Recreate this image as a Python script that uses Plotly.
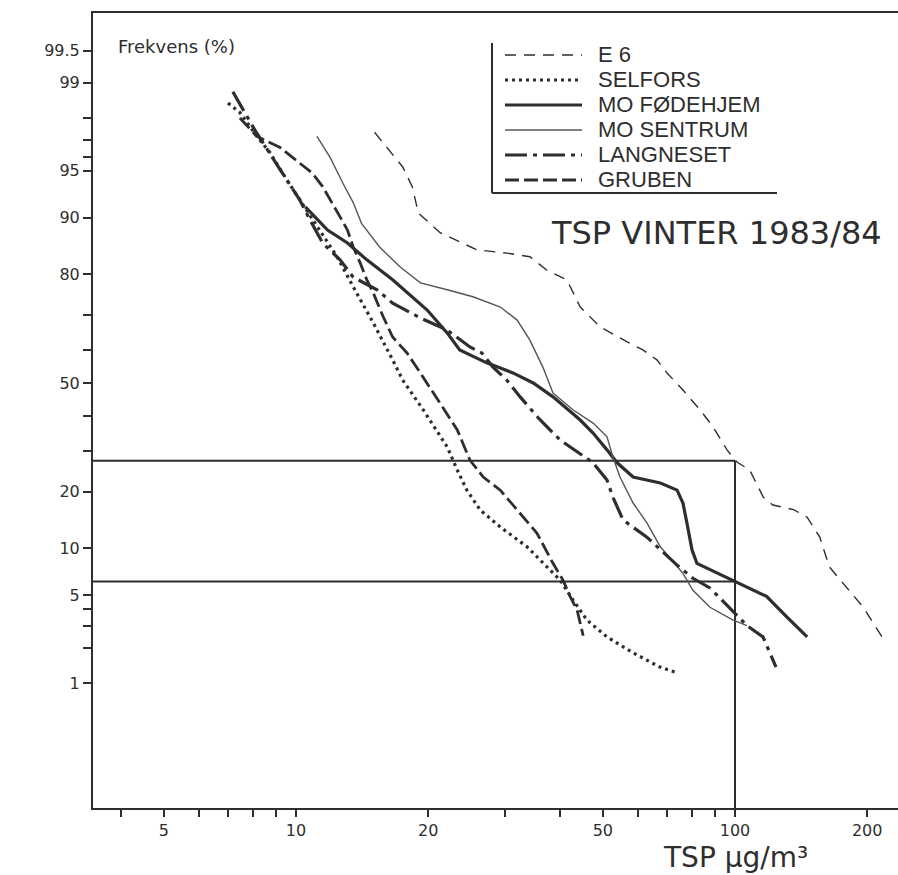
import plotly.graph_objects as go
from statistics import NormalDist

_nd = NormalDist()


def probit(p):
    """Normal-probability scale: percent -> standard normal quantile."""
    return _nd.inv_cdf(p / 100.0)


# ---------------- data (TSP in ug/m3, cumulative frequency in %) ----------------
series_names = ["E 6", "SELFORS", "MO FØDEHJEM", "MO SENTRUM", "LANGNESET", "GRUBEN"]

e6_tsp = [15.1, 17.5, 18.4, 19.0, 21.3, 25.8, 30.2, 34.1, 37.3, 41.4, 44.4, 49.3, 56.8,
          61.7, 66.4, 70.0, 76.1, 83.3, 89.1, 95.9, 101, 108, 116, 122, 136, 146, 156,
          164, 174, 196, 217]
e6_freq = [97.4, 95.3, 93.6, 90.6, 87.8, 84.9, 84.3, 83.6, 80.9, 78.8, 72.2, 66.8, 62.5,
           60.1, 57.1, 53.1, 47.8, 41.7, 36.7, 30.2, 27.0, 25.0, 18.8, 17.2, 16.3, 14.9,
           11.6, 7.7, 6.3, 4.1, 2.4]

selfors_tsp = [7.0, 7.45, 8.15, 8.72, 9.54, 10.2, 11.34, 12.4, 13.5, 15.0, 16.6, 17.5,
               19.5, 22.1, 23.3, 24.5, 26.3, 29.2, 33.6, 37.3, 40.0, 42.8, 46.0, 51.1,
               58.6, 67.5, 73.8]
selfors_freq = [98.5, 98.2, 97.2, 96.3, 94.2, 92.2, 88.2, 83.6, 77.2, 67.9, 57.1, 50.9,
                41.7, 31.0, 25.0, 20.3, 16.2, 13.2, 10.2, 7.7, 6.3, 4.6, 3.3, 2.45,
                1.82, 1.38, 1.23]

fodehjem_tsp = [10.5, 11.8, 13.1, 14.5, 16.6, 19.9, 22.1, 23.6, 27.2, 31.2, 34.7, 38.5,
                44.4, 47.5, 51.1, 53.9, 58.6, 67.6, 73.8, 76.1, 77.7, 79.8, 81.9, 87.7,
                99.0, 106.5, 118, 131, 146]
fodehjem_freq = [91.4, 88.2, 86.1, 83.0, 78.8, 71.4, 65.1, 60.1, 56.2, 53.1, 50.0, 45.7,
                 38.7, 34.9, 30.2, 26.8, 23.3, 21.9, 20.3, 17.6, 13.9, 9.8, 8.1, 7.4,
                 6.3, 5.7, 4.9, 3.5, 2.45]

sentrum_tsp = [11.16, 11.95, 12.8, 13.5, 14.1, 15.5, 17.25, 19.2, 22.1, 25.3, 29.2, 31.9,
               34.1, 36.5, 38.5, 42.8, 47.5, 51.1, 52.7, 54.7, 58.6, 63.0, 67.6, 76.1,
               80.2, 87.7, 99.0, 106.5]
sentrum_freq = [97.2, 96.0, 93.9, 91.9, 89.2, 85.4, 81.6, 78.1, 76.5, 74.8, 72.2, 68.7,
                63.0, 54.9, 46.9, 41.7, 37.8, 33.8, 28.3, 23.3, 17.6, 13.9, 10.2, 7.0,
                5.4, 4.1, 3.3, 3.0]

langneset_tsp = [7.18, 8.06, 9.2, 10.2, 10.76, 11.5, 12.6, 13.5, 15.3, 16.6, 19.2, 22.1,
                 24.9, 26.5, 28.1, 30.2, 32.4, 36.0, 40.0, 43.7, 47.5, 51.1, 52.7, 55.6,
                 59.8, 63.0, 73.8, 80.2, 87.7, 99.0, 106.5, 115.8, 121.4, 124]
langneset_freq = [98.8, 97.5, 95.1, 92.2, 89.7, 86.1, 83.0, 79.4, 76.5, 73.2, 69.3, 65.9,
                  61.0, 59.2, 54.9, 50.9, 45.7, 38.7, 32.9, 29.6, 26.8, 22.6, 18.8, 14.4,
                  12.7, 11.6, 7.9, 6.5, 5.6, 3.8, 3.0, 2.45, 1.68, 1.38]

gruben_tsp = [7.45, 8.15, 9.2, 10.2, 10.9, 11.5, 11.95, 12.6, 13.1, 13.5, 14.0, 14.5,
              15.0, 15.8, 16.6, 17.9, 19.2, 21.3, 23.3, 24.9, 26.7, 29.2, 32.4, 35.4,
              38.5, 40.6, 42.1, 43.7, 45.1]
gruben_freq = [98.0, 97.2, 96.6, 95.6, 94.8, 93.6, 92.2, 90.1, 88.2, 85.4, 82.4, 78.8,
               75.7, 69.6, 63.9, 59.2, 53.1, 43.8, 35.8, 27.5, 23.3, 20.3, 15.7, 12.2,
               8.1, 6.3, 4.9, 3.9, 2.5]

# reference lines
ref_freq = [27.3, 6.2]
ref_tsp = 100

# axis ticks
y_major_freq = [99.5, 99, 95, 90, 80, 50, 20, 10, 5, 1]
y_major_text = ["99.5", "99", "95", "90", "80", "50", "20", "10", "5", "1"]
y_minor_freq = [98, 97, 96, 70, 60, 40, 30, 4, 3, 2]
x_major = [5, 10, 20, 50, 100, 200]
x_minor = [4, 6, 7, 8, 9, 30, 40, 60, 70, 80, 90]

# ---------------- layout geometry (pixels) ----------------
W, H = 898, 875
L, R, T, B = 93, 898, 13, 808
x_range_log = [0.5376, 2.3713]
y_range_z = [-3.295, 2.868]
INK = "#2e2e2e"


def pxx(x):
    return (x - L) / (R - L)


def pxy(y):
    return (B - y) / (B - T)


styles = [
    dict(color=INK, width=1.4, dash="11px,8px"),           # E 6
    dict(color=INK, width=3.2, dash="3px,4px"),            # SELFORS
    dict(color=INK, width=3.2, dash="solid"),              # MO FØDEHJEM
    dict(color="#555555", width=1.4, dash="solid"),        # MO SENTRUM
    dict(color=INK, width=3.2, dash="22px,6px,4px,6px"),   # LANGNESET
    dict(color=INK, width=2.8, dash="14px,5px"),           # GRUBEN
]

series = [
    (e6_tsp, e6_freq),
    (selfors_tsp, selfors_freq),
    (fodehjem_tsp, fodehjem_freq),
    (sentrum_tsp, sentrum_freq),
    (langneset_tsp, langneset_freq),
    (gruben_tsp, gruben_freq),
]

fig = go.Figure()

# reference lines
x_left = 10 ** x_range_log[0]
for f in ref_freq:
    fig.add_trace(go.Scatter(x=[x_left, ref_tsp], y=[probit(f), probit(f)], mode="lines",
                             line=dict(color=INK, width=2), showlegend=False, hoverinfo="skip"))
fig.add_trace(go.Scatter(x=[ref_tsp, ref_tsp], y=[y_range_z[0], probit(max(ref_freq))],
                         mode="lines", line=dict(color=INK, width=2), showlegend=False,
                         hoverinfo="skip"))

for name, (xs, ps), st in zip(series_names, series, styles):
    fig.add_trace(go.Scatter(x=xs, y=[probit(p) for p in ps], mode="lines", name=name,
                             line=st, showlegend=False))

# ---------------- manual legend ----------------
shapes = [
    dict(type="line", xref="paper", yref="paper", x0=pxx(492), x1=pxx(492), y0=pxy(43), y1=pxy(193),
         line=dict(color=INK, width=2)),
    dict(type="line", xref="paper", yref="paper", x0=pxx(492), x1=pxx(777), y0=pxy(193), y1=pxy(193),
         line=dict(color=INK, width=2)),
]
annotations = []
for i, (name, st) in enumerate(zip(series_names, styles)):
    ry = 55 + 25 * i
    shapes.append(dict(type="line", xref="paper", yref="paper", x0=pxx(505), x1=pxx(582),
                       y0=pxy(ry), y1=pxy(ry), line=st))
    annotations.append(dict(text=name, xref="paper", yref="paper", x=pxx(596), y=pxy(ry),
                            xanchor="left", yanchor="middle", showarrow=False,
                            font=dict(family="Liberation Sans", size=22, color=INK)))

annotations.append(dict(text="TSP VINTER 1983/84", xref="paper", yref="paper", x=pxx(716), y=pxy(233),
                        xanchor="center", yanchor="middle", showarrow=False,
                        font=dict(family="DejaVu Sans", size=32, color=INK)))
annotations.append(dict(text="Frekvens (%)", xref="paper", yref="paper", x=pxx(116), y=pxy(47),
                        xanchor="left", yanchor="middle", showarrow=False,
                        font=dict(family="DejaVu Sans", size=18, color=INK)))
annotations.append(dict(text="TSP μg/m³", xref="paper", yref="paper", x=pxx(735), y=pxy(857),
                        xanchor="center", yanchor="middle", showarrow=False,
                        font=dict(family="DejaVu Sans", size=28, color=INK)))

y_tickvals = [probit(p) for p in y_major_freq + y_minor_freq]
y_ticktext = y_major_text + [""] * len(y_minor_freq)
x_tickvals = x_major + x_minor
x_ticktext = [str(v) for v in x_major] + [""] * len(x_minor)

fig.update_layout(
    width=W, height=H,
    margin=dict(l=L, r=W - R, t=T, b=H - B, pad=0),
    paper_bgcolor="white", plot_bgcolor="white",
    shapes=shapes, annotations=annotations,
    xaxis=dict(type="log", range=x_range_log, showgrid=False, zeroline=False,
               showline=True, linecolor=INK, linewidth=2, mirror=True,
               tickmode="array", tickvals=x_tickvals, ticktext=x_ticktext,
               ticks="outside", ticklen=7, tickwidth=2, tickcolor=INK,
               tickfont=dict(family="DejaVu Sans", size=16, color=INK)),
    yaxis=dict(range=y_range_z, showgrid=False, zeroline=False,
               showline=True, linecolor=INK, linewidth=2, mirror=False,
               tickmode="array", tickvals=y_tickvals, ticktext=y_ticktext,
               ticks="outside", ticklen=8, tickwidth=2, tickcolor=INK,
               tickfont=dict(family="DejaVu Sans", size=16, color=INK)),
    showlegend=False,
)

fig.write_html("out.html")
